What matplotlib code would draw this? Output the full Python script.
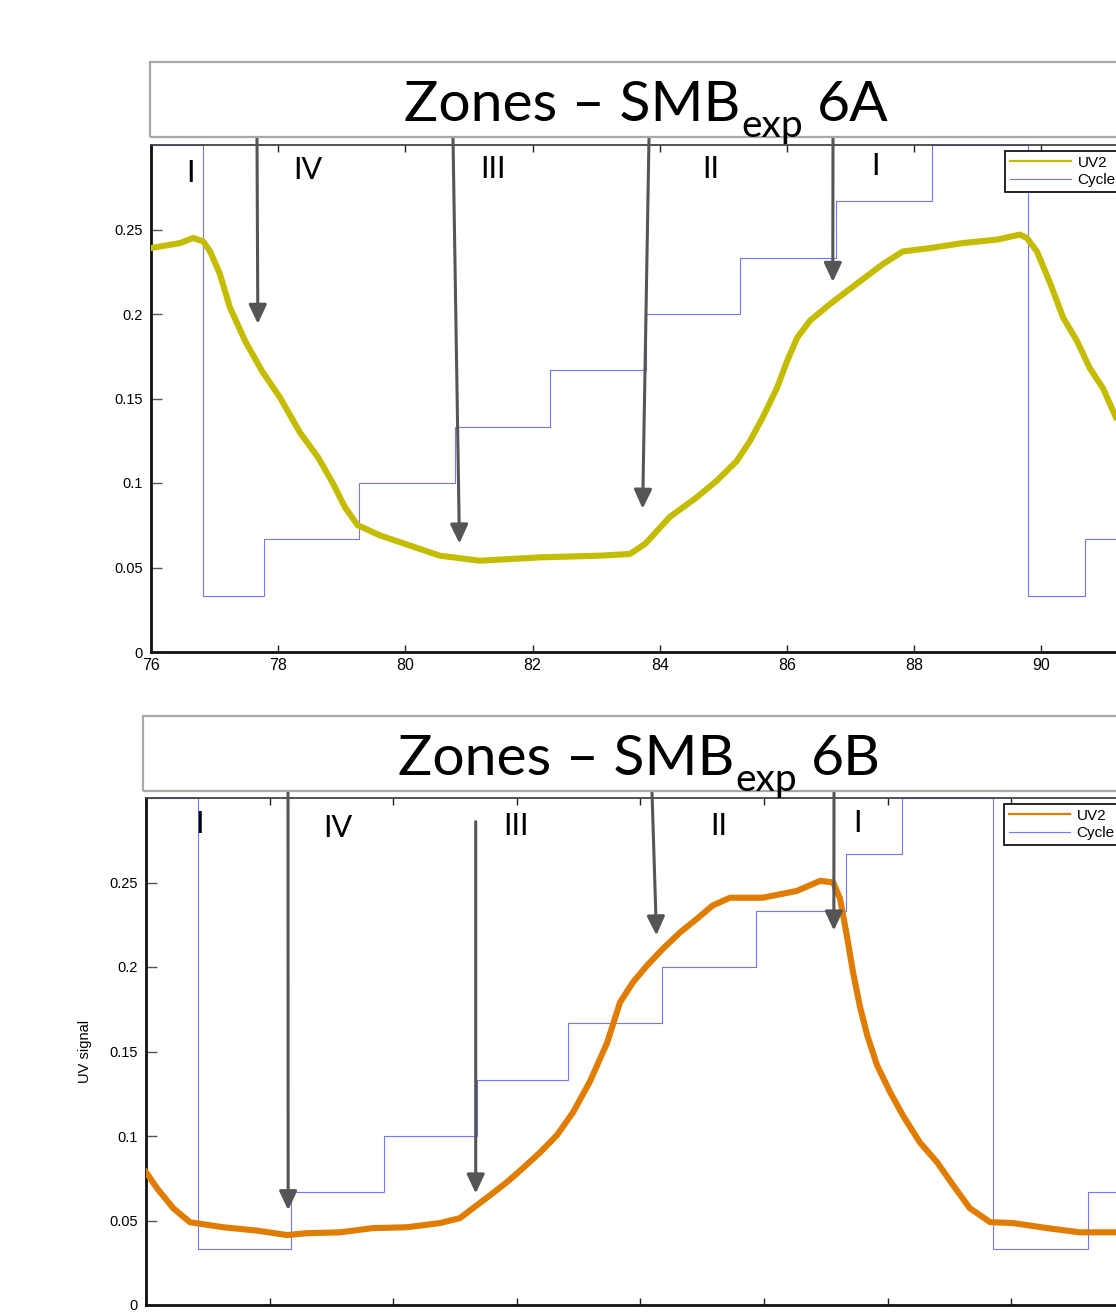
import matplotlib
matplotlib.use('Agg')
import matplotlib.pyplot as plt
from matplotlib.patches import Rectangle
from matplotlib.lines import Line2D
from matplotlib.ticker import FixedLocator, FuncFormatter

plt.rcParams['font.family'] = ['Liberation Sans', 'DejaVu Sans']

# ---- SMBexp 6A (top) ----
time_a = [76.00, 76.46, 76.66, 76.82, 76.93, 77.08, 77.24, 77.48, 77.75, 78.03,
          78.34, 78.63, 78.86, 79.05, 79.25, 79.60, 80.07, 80.54, 81.17, 82.12,
          83.06, 83.53, 83.77, 84.16, 84.58, 84.90, 85.21, 85.42, 85.62, 85.84,
          86.00, 86.16, 86.36, 86.68, 87.10, 87.51, 87.82, 88.25, 88.77, 89.30,
          89.66, 89.77, 89.93, 90.14, 90.34, 90.56, 90.76, 90.97, 91.17]
uv_a = [0.239, 0.242, 0.245, 0.243, 0.237, 0.224, 0.204, 0.184, 0.166, 0.1505,
        0.130, 0.115, 0.0998, 0.0856, 0.075, 0.069, 0.063, 0.057, 0.054, 0.056,
        0.057, 0.058, 0.064, 0.080, 0.0915, 0.1015, 0.113, 0.125, 0.139, 0.156,
        0.172, 0.186, 0.196, 0.206, 0.218, 0.2296, 0.237, 0.239, 0.242, 0.244,
        0.247, 0.245, 0.237, 0.218, 0.198, 0.184, 0.168, 0.156, 0.139]
cycle_time_a = [76.00, 76.82, 77.78, 79.27, 80.78, 82.27, 83.78, 85.26, 86.77,
                88.28, 89.79, 90.69, 92.00]
cycle_a = [0.3, 0.0333, 0.0667, 0.1, 0.1333, 0.1667, 0.2, 0.2333, 0.2667,
           0.3, 0.0333, 0.0667, 0.0667]
zones_a = ['I', 'IV', 'III', 'II', 'I']
zone_x_a = [76.62, 78.46, 81.38, 84.80, 87.39]
zone_y_a = [0.2782, 0.2796, 0.2806, 0.2806, 0.2822]
arrow_x_a = [77.68, 80.85, 83.73, 86.72]
arrow_y_a = [0.1942, 0.0642, 0.0848, 0.2190]

# ---- SMBexp 6B (bottom) ----
time_b = [76.00, 76.18, 76.44, 76.71, 77.25, 77.80, 78.28, 78.61, 79.14, 79.67,
          80.22, 80.76, 81.08, 81.29, 81.57, 81.84, 82.10, 82.38, 82.65, 82.91,
          83.18, 83.46, 83.67, 83.88, 84.11, 84.37, 84.64, 84.92, 85.17, 85.45,
          85.98, 86.53, 86.91, 87.12, 87.23, 87.34, 87.44, 87.55, 87.67, 87.83,
          88.04, 88.25, 88.52, 88.80, 89.06, 89.33, 89.66, 90.03, 90.58, 91.11,
          91.70]
uv_b = [0.0786, 0.069, 0.0573, 0.049, 0.046, 0.044, 0.0414, 0.0425, 0.043, 0.0455,
        0.046, 0.0485, 0.0514, 0.0573, 0.065, 0.0727, 0.081, 0.0904, 0.1005, 0.114,
        0.132, 0.155, 0.179, 0.191, 0.201, 0.211, 0.2204, 0.2287, 0.2364, 0.241,
        0.241, 0.245, 0.251, 0.250, 0.2405, 0.2187, 0.197, 0.177, 0.1596, 0.1418,
        0.126, 0.112, 0.0963, 0.0845, 0.0709, 0.0573, 0.049, 0.0485, 0.0455, 0.043,
        0.043]
cycle_time_b = [76.00, 76.84, 78.35, 79.85, 81.36, 82.83, 84.35, 85.87, 87.33,
                88.23, 89.71, 91.24, 92.50]
cycle_b = [0.3, 0.0333, 0.0667, 0.1, 0.1333, 0.1667, 0.2, 0.2333, 0.2667,
           0.3, 0.0333, 0.0667, 0.0667]
zones_b = ['I', 'IV', 'III', 'II', 'I']
zone_x_b = [76.86, 79.10, 81.98, 85.27, 87.52]
zone_y_b = [0.2794, 0.2768, 0.2782, 0.2782, 0.2797]
arrow_x_b = [78.30, 81.335, 84.26, 87.13]
arrow_y_b = [0.0561, 0.0660, 0.2187, 0.2216]

yticks = [0, 0.05, 0.1, 0.15, 0.2, 0.25]
cycle_color = '#7474ff'

W, H = 1116, 1312
fig = plt.figure(figsize=(W / 100, H / 100), dpi=100)
renderer = fig.canvas.get_renderer()


def panel(rect, xlim, t, uv, ct, cyc, color, legend_x, ylabel=None, xlabels=True):
    ax = fig.add_axes(rect)
    ax.step(ct, cyc, where='post', color=cycle_color, lw=0.8, zorder=2)
    ax.plot(t, uv, color=color, lw=4.4, zorder=3, solid_joinstyle='round')
    ax.set_xlim(*xlim)
    ax.set_ylim(0, 0.3)
    ax.xaxis.set_major_locator(FixedLocator(range(76, 91, 2)))
    ax.yaxis.set_major_locator(FixedLocator(yticks))
    ax.yaxis.set_major_formatter(FuncFormatter(lambda v, p: f'{v:g}'))
    ax.tick_params(axis='x', direction='in', top=True, length=5, width=1,
                   labelsize=11.5, pad=4, color='#222222', labelbottom=xlabels)
    ax.tick_params(axis='y', direction='in', right=True, length=8, width=1,
                   labelsize=10.5, pad=6, color='#555555')
    for s in ['left', 'bottom']:
        ax.spines[s].set_linewidth(2.0)
        ax.spines[s].set_color('#111111')
    for s in ['top', 'right']:
        ax.spines[s].set_linewidth(1.3)
        ax.spines[s].set_color('#444444')
    if ylabel:
        ax.set_ylabel(ylabel, fontsize=10.5, labelpad=12)
    handles = [Line2D([], [], color=color, lw=1.6), Line2D([], [], color=cycle_color, lw=0.8)]
    ax.legend(handles, ['UV2', 'Cycle'], loc='upper left',
              bbox_to_anchor=(legend_x / W, rect[1] + rect[3] - 6 / H),
              bbox_transform=fig.transFigure, borderaxespad=0, fontsize=11,
              handlelength=4.0, handletextpad=0.45, labelspacing=0.22, borderpad=0.3,
              fancybox=False, framealpha=1, edgecolor='black').get_frame().set_linewidth(1.2)
    return ax


def title_box(x0, y_top, y_bot, text_x, text_base, main, sub, tail):
    fig.add_artist(Rectangle((x0 / W, 1 - y_bot / H), (W + 40 - x0) / W, (y_bot - y_top) / H,
                             transform=fig.transFigure, fill=False,
                             ec='#a8a8a8', lw=1.6, clip_on=False))
    t1 = fig.text(text_x / W, 1 - text_base / H, main, fontsize=41, family='Lato',
                  ha='left', va='baseline')
    x1 = t1.get_window_extent(renderer).x1
    t2 = fig.text((x1 + 1) / W, 1 - (text_base + 16) / H, sub, fontsize=28,
                  family='Lato', ha='left', va='baseline')
    x2 = t2.get_window_extent(renderer).x1
    fig.text((x2 + 14) / W, 1 - text_base / H, tail, fontsize=41, family='Lato',
             ha='left', va='baseline')


def zones_and_arrows(ax, zones, zx, zy, ax_x, ax_y, starts):
    for z, x, y in zip(zones, zx, zy):
        ax.text(x, y, z, fontsize=22, family='Lato', ha='center', va='baseline',
                zorder=5)
    for x, y, (sx, sy) in zip(ax_x, ax_y, starts):
        ax.annotate('', xy=(x, y), xycoords='data',
                    xytext=(sx, H - sy), textcoords='figure pixels',
                    annotation_clip=False,
                    arrowprops=dict(arrowstyle='-|>,head_length=11.5,head_width=5.4',
                                    mutation_scale=1, color='#555555', lw=2.2,
                                    shrinkA=0, shrinkB=0))


# top panel
ax1 = panel([151 / W, 1 - 652 / H, (1168.6 - 151) / W, 507 / H], (76, 92),
            time_a, uv_a, cycle_time_a, cycle_a, '#c4bc00', legend_x=1005)
title_box(150, 62, 137, 404, 121, 'Zones – SMB', 'exp', '6A')
zones_and_arrows(ax1, zones_a, zone_x_a, zone_y_a, arrow_x_a, arrow_y_a,
                 [(257, 138), (453, 138), (649, 138), (833, 138)])

# bottom panel
ax2 = panel([146 / W, 1 - 1305 / H, (1165.7 - 146) / W, 507 / H], (76, 92.5),
            time_b, uv_b, cycle_time_b, cycle_b, '#e07c00', legend_x=1004,
            ylabel='UV signal', xlabels=False)
title_box(143, 716, 791, 398, 775, 'Zones – SMB', 'exp', '6B')
zones_and_arrows(ax2, zones_b, zone_x_b, zone_y_b, arrow_x_b, arrow_y_b,
                 [(288, 792), (475.7, 821.7), (652, 792), (834, 792)])

fig.savefig('out.png', dpi=100)
